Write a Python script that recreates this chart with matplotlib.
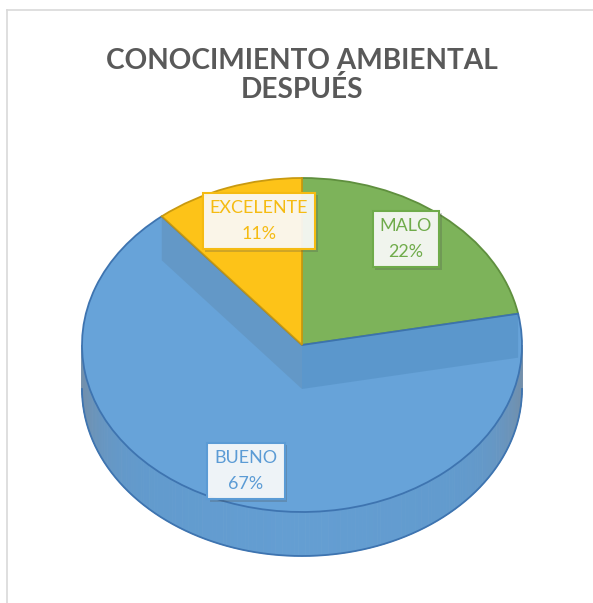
import numpy as np
import matplotlib
matplotlib.use('Agg')
import matplotlib.pyplot as plt
from matplotlib.transforms import Affine2D
from matplotlib.patches import Polygon
import matplotlib.patheffects as pe

# ---- data ----
categories = ['MALO', 'BUENO', 'EXCELENTE']
percentages = [22, 67, 11]
title_lines = ['CONOCIMIENTO AMBIENTAL', 'DESPUÉS']

# ---- style ----
colors = ['#7db35a', '#67a3d9', '#fdc318']
edge_colors = ['#5f8f3e', '#3e74b0', '#c99a10']
text_colors = ['#6fab4a', '#5b9bd5', '#f5bb12']
FAMILY = 'Lato'

W, H = 593, 603
fig = plt.figure(figsize=(W / 100, H / 100), dpi=100)
ax = fig.add_axes([0, 0, 1, 1])


def Y(y):
    return H - y


cx, cy = 302, Y(345)
a, b = 220, 167
depth = 44

renderer = fig.canvas.get_renderer()


def fit_size(text, target_px, weight='normal', base=20.0):
    t = fig.text(0, 0, text, fontsize=base, family=FAMILY, weight=weight)
    w = t.get_window_extent(renderer).width
    t.remove()
    return base * target_px / w


# ---- side wall of the cylinder (front half, all BUENO) ----
phis = np.linspace(np.pi, 2 * np.pi, 181)
base_rgb = np.array(matplotlib.colors.to_rgb(colors[1]))
gray = np.array(matplotlib.colors.to_rgb('#8a9099'))
for p0, p1 in zip(phis[:-1], phis[1:]):
    xs0, ys0 = cx + a * np.cos(p0), cy + b * np.sin(p0)
    xs1, ys1 = cx + a * np.cos(p1), cy + b * np.sin(p1)
    k = 0.55 * abs(np.cos((p0 + p1) / 2)) ** 10
    col = base_rgb * (1 - k) + gray * k
    col = col * (0.97 - 0.03 * abs(np.cos((p0 + p1) / 2)))
    ax.add_patch(Polygon([(xs0, ys0), (xs1, ys1), (xs1, ys1 - depth), (xs0, ys0 - depth)],
                         closed=True, fc=col, ec=col, lw=0.6, zorder=1))
bottom = [(cx + a * np.cos(p), cy + b * np.sin(p) - depth) for p in phis]
ax.plot([p[0] for p in bottom], [p[1] for p in bottom], color='#3e74b0', lw=1.3, zorder=1.5)

# ---- top surface ----
wedges, _ = ax.pie(percentages, startangle=90, counterclock=False, colors=colors,
                   wedgeprops=dict(linewidth=1.3))
tr = Affine2D().scale(a, b).translate(cx, cy) + ax.transData
for w, ec in zip(wedges, edge_colors):
    w.set_edgecolor(ec)
    w.set_transform(tr)
    w.set_zorder(2)

# ---- translucent inner walls of the BUENO slice ----
cum = np.cumsum(percentages) / np.sum(percentages)
for frac, col in [(cum[0], '#2e6a9a'), (cum[1], '#556f80')]:
    th = np.deg2rad(90 - 360 * frac)
    ex, ey = cx + a * np.cos(th), cy + b * np.sin(th)
    ax.add_patch(Polygon([(cx, cy), (ex, ey), (ex, ey - depth), (cx, cy - depth)],
                         closed=True, fc=col, alpha=0.2, ec='none', zorder=3))

# ---- data labels ----
label_pos = {'MALO': (406, 239), 'BUENO': (246, 471), 'EXCELENTE': (259, 221)}
lab_size = fit_size('EXCELENTE', 98)
for cat, pct, tc, ec in zip(categories, percentages, text_colors, edge_colors):
    x, y = label_pos[cat]
    t = ax.text(x, Y(y), f'{cat}\n{pct}%', ha='center', va='center', ma='center',
                color=tc, fontsize=lab_size, family=FAMILY, linespacing=1.8, zorder=5,
                bbox=dict(boxstyle='square,pad=0.4', fc=(1, 1, 1, 0.9), ec=tc, lw=1.5))
    t.get_bbox_patch().set_path_effects([pe.SimplePatchShadow(offset=(2, -2), alpha=0.25),
                                         pe.Normal()])

# ---- title ----
tsize = fit_size(title_lines[0], 392, weight='bold')
ax.text(302, Y(61), title_lines[0], ha='center', va='center', fontsize=tsize,
        weight='bold', family=FAMILY, color='#595959')
ax.text(302, Y(90), title_lines[1], ha='center', va='center', fontsize=tsize,
        weight='bold', family=FAMILY, color='#595959')

# ---- chart frame ----
ax.plot([7, W], [Y(10), Y(10)], color='#d9d9d9', lw=1.2, zorder=0)
ax.plot([7, 7], [Y(10), 0], color='#d9d9d9', lw=1.2, zorder=0)

ax.set_aspect('auto')
ax.set_xlim(0, W)
ax.set_ylim(0, H)
ax.axis('off')

fig.savefig('out.png', dpi=100, facecolor='white')
